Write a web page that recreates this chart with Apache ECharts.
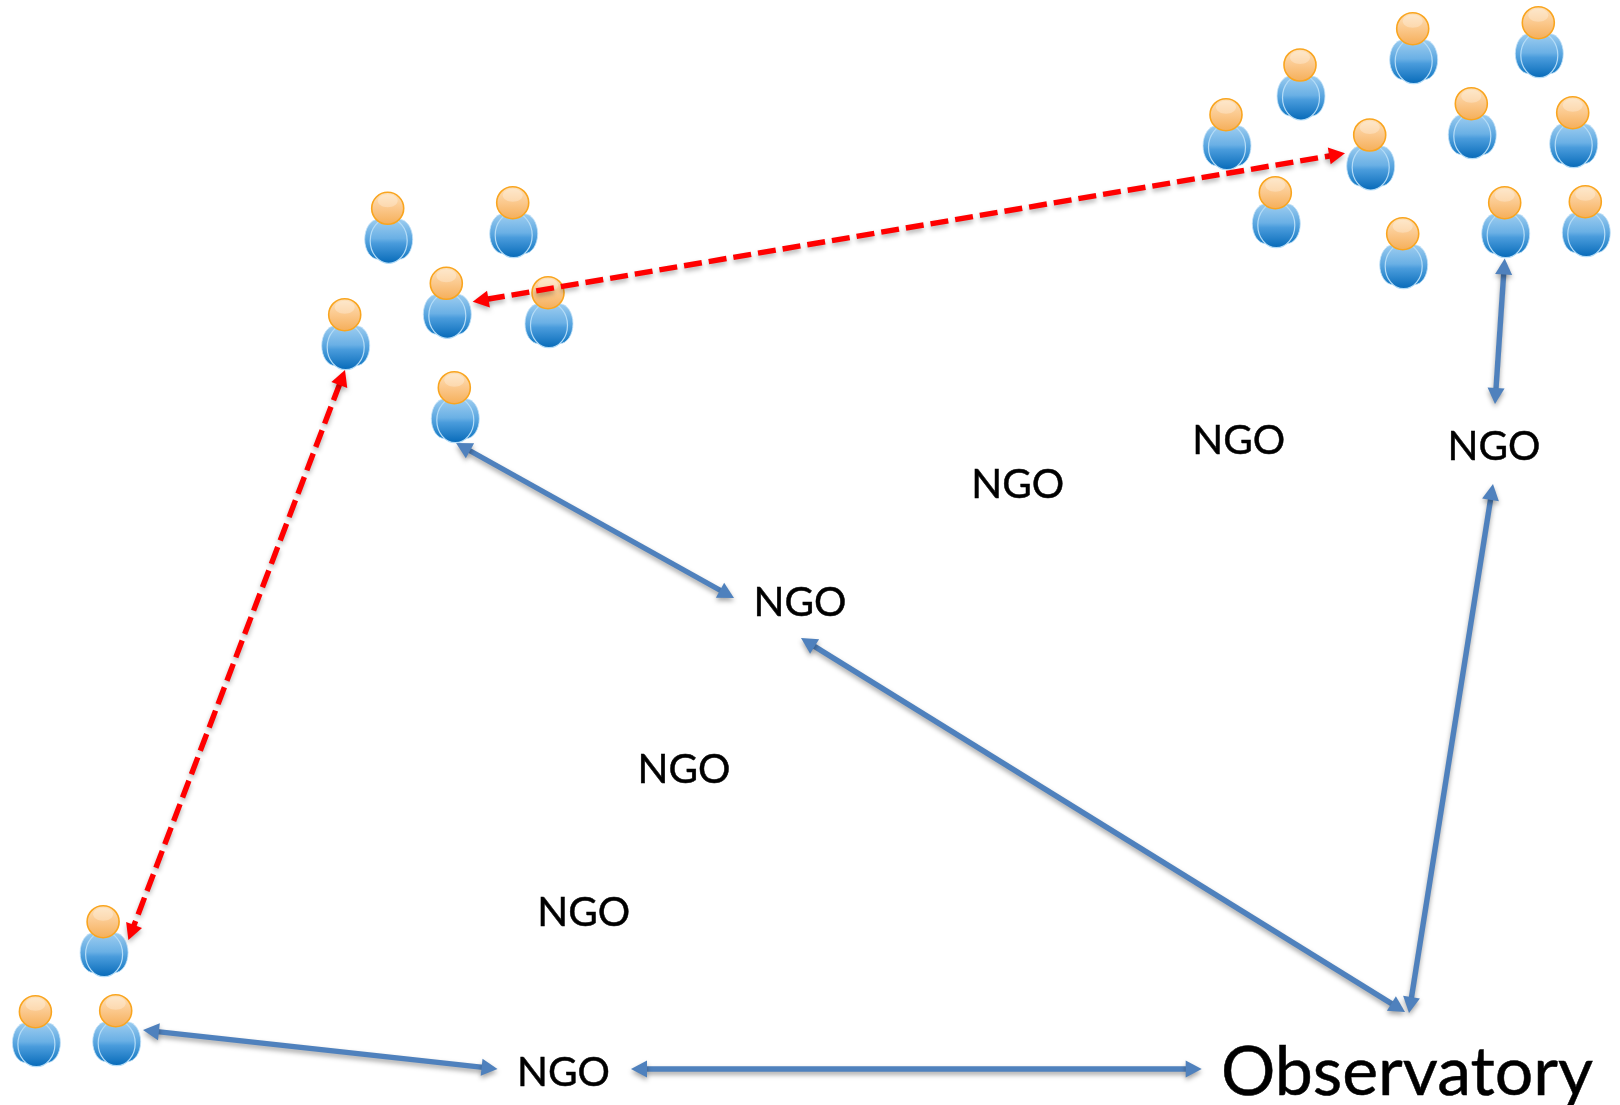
<!DOCTYPE html>
<html>
<head>
<meta charset="utf-8">
<style>html,body{margin:0;padding:0;background:#fff}#c{width:1620px;height:1105px}</style>
<script src="https://cdn.jsdelivr.net/npm/echarts@6/dist/echarts.min.js"></script>
</head>
<body>
<div id="c"></div>
<script>
// head positions of the people
const people = [
  [387.7,208.3],[512.7,202.7],[446.3,283.3],[548,292.7],[344.7,314.7],[454.3,387.7],
  [1226,114.7],[1300,65],[1412.7,28.7],[1538.3,22.7],[1369.7,135],[1471.3,103.7],
  [1572.7,112.7],[1275.3,192.7],[1402.7,233.7],[1504.7,202.7],[1585.3,201.7],
  [103.1,921.7],[35.4,1011.7],[115.7,1010.7]
];
// arrows: x1,y1,x2,y2
const blueArrows = [
  [456,443,734,598],
  [801,638,1405,1012],
  [1409,1013,1493,484],
  [1504.7,258.5,1495,404],
  [143,1030,497.5,1069],
  [631,1069,1201.7,1069]
];
const redArrows = [
  [472.7,301.7,1345,153.3],
  [345,370,128.4,940]
];
const ngoLabels = [
  [1238.8,440.5,'NGO'],[1494,446.5,'NGO'],[1017.7,485,'NGO'],[800,602.5,'NGO'],
  [684,770,'NGO'],[583.8,912.5,'NGO'],[563.5,1072.5,'NGO']
];
const observatoryLabel = [[1407,1073,'Observatory']];

function grad(stops){
  return {type:'linear',x:0,y:0,x2:0,y2:1,colorStops:stops.map((c,i)=>({offset:c[0],color:c[1]}))};
}
const bodyFill = grad([[0,'#a3d0f1'],[0.45,'#6ab0e5'],[0.55,'#4a9cdc'],[1,'#0569b8']]);
const armFill = grad([[0,'#9dcdf0'],[0.5,'#5aa6e0'],[1,'#1278c4']]);
const headFill = grad([[0,'#fde2bd'],[0.5,'#fbc88c'],[1,'#f5ae58']]);

function renderPerson(params, api){
  const p = api.coord([api.value(0), api.value(1)]);
  const x = p[0], y = p[1];
  const e = (cx,cy,rx,ry,style)=>({type:'ellipse',shape:{cx,cy,rx,ry},style});
  return {type:'group',children:[
    e(x-9.5,y+31,13.5,20,{fill:armFill,stroke:'#c4e2f8',lineWidth:0.8}),
    e(x+11.5,y+31,13.5,20,{fill:armFill,stroke:'#c4e2f8',lineWidth:0.8}),
    e(x+1,y+32.5,18.5,22.5,{fill:bodyFill,stroke:'#b4dcf7',lineWidth:1.2}),
    e(x,y,16,16,{fill:headFill,stroke:'#f9a51f',lineWidth:1.6}),
    e(x,y-7.5,10,6.5,{fill:'rgba(255,255,255,0.28)'})
  ]};
}

function arrowRender(color, width, head, headW, dash, shadow){
  return function(params, api){
    const a = api.coord([api.value(0), api.value(1)]);
    const b = api.coord([api.value(2), api.value(3)]);
    const dx = b[0]-a[0], dy = b[1]-a[1], L = Math.hypot(dx,dy);
    const ux = dx/L, uy = dy/L, nx = -uy, ny = ux;
    const tri = (t,s)=>[t,[t[0]+s*ux*head+nx*headW,t[1]+s*uy*head+ny*headW],[t[0]+s*ux*head-nx*headW,t[1]+s*uy*head-ny*headW]];
    const sh = {shadowColor:shadow,shadowBlur:5,shadowOffsetX:0,shadowOffsetY:3};
    return {type:'group',children:[
      {type:'line',shape:{x1:a[0]+ux*head*0.9,y1:a[1]+uy*head*0.9,x2:b[0]-ux*head*0.9,y2:b[1]-uy*head*0.9},
       style:Object.assign({stroke:color,lineWidth:width,lineDash:dash,fill:null},sh)},
      {type:'polygon',shape:{points:tri(a,1)},style:Object.assign({fill:color},sh)},
      {type:'polygon',shape:{points:tri(b,-1)},style:Object.assign({fill:color},sh)}
    ]};
  };
}

function textRender(size){
  return function(params, api){
    const p = api.coord([api.value(0), api.value(1)]);
    return {type:'text',style:{text:api.value(2),x:p[0],y:p[1],align:'center',verticalAlign:'middle',
      fill:'#000',stroke:'#000',lineWidth:0.5,font:size+'px Lato, "Open Sans", sans-serif'}};
  };
}

const chart = echarts.init(document.getElementById('c'), null, {width:1620,height:1105});
const dims2 = ['x1','y1','x2','y2'];
chart.setOption({
  animation:false,
  backgroundColor:'#fff',
  grid:{left:0,right:0,top:0,bottom:0},
  xAxis:{type:'value',min:0,max:1620,show:false},
  yAxis:{type:'value',min:0,max:1105,inverse:true,show:false},
  series:[
    {type:'custom',name:'NGO links',z:2,coordinateSystem:'cartesian2d',silent:true,clip:false,dimensions:dims2,
     encode:{x:[0,2],y:[1,3]},data:blueArrows,
     renderItem:arrowRender('#4f81bd',5.4,16,8.5,null,'rgba(0,0,0,0.35)')},
    {type:'custom',name:'People',z:3,coordinateSystem:'cartesian2d',silent:true,clip:false,
     encode:{x:0,y:1},data:people,renderItem:renderPerson},
    {type:'custom',name:'Citizen links',z:4,coordinateSystem:'cartesian2d',silent:true,clip:false,dimensions:dims2,
     encode:{x:[0,2],y:[1,3]},data:redArrows,
     renderItem:arrowRender('#ff0000',5.4,16,8.5,[18,7],'rgba(0,0,0,0.3)')},
    {type:'custom',name:'NGO',z:5,coordinateSystem:'cartesian2d',silent:true,clip:false,
     dimensions:['x','y',{name:'t',type:'ordinal'}],encode:{x:0,y:1},data:ngoLabels,renderItem:textRender(40.5)},
    {type:'custom',name:'Observatory',z:5,coordinateSystem:'cartesian2d',silent:true,clip:false,
     dimensions:['x','y',{name:'t',type:'ordinal'}],encode:{x:0,y:1},data:observatoryLabel,renderItem:textRender(68)}
  ]
});
</script>
</body>
</html>
